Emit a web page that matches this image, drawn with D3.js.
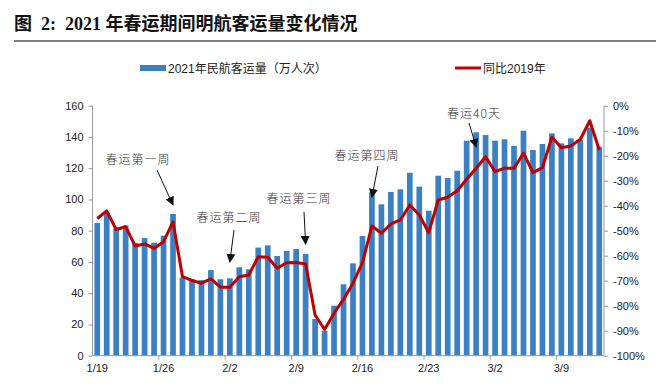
<!DOCTYPE html>
<html>
<head>
<meta charset="utf-8">
<script src="https://cdn.jsdelivr.net/npm/d3@7/dist/d3.min.js"></script>
<style>
  body { margin: 0; background: #fff; }
  svg { display: block; font-family: Arial, "Liberation Sans", "Noto Sans CJK SC", sans-serif; }
</style>
</head>
<body>
<svg id="chart" width="672" height="385"></svg>
<script>
// Categories: daily, 2021-01-19 .. 2021-03-13
const dates = [
  "1/19","1/20","1/21","1/22","1/23","1/24","1/25","1/26","1/27","1/28","1/29","1/30","1/31",
  "2/1","2/2","2/3","2/4","2/5","2/6","2/7","2/8","2/9","2/10","2/11","2/12","2/13","2/14",
  "2/15","2/16","2/17","2/18","2/19","2/20","2/21","2/22","2/23","2/24","2/25","2/26","2/27","2/28",
  "3/1","3/2","3/3","3/4","3/5","3/6","3/7","3/8","3/9","3/10","3/11","3/12","3/13"
];
// 2021 civil aviation passenger volume (10k trips)
const passengers = [
  85, 91.5, 81.5, 83.4, 72.3, 75.3, 72.3, 76.8, 90.7, 50, 49, 48.4, 54.8,
  48.9, 49.5, 56.6, 55.3, 69.2, 70.6, 63.8, 67, 68.3, 65.1, 23.5, 16, 32, 45.7,
  59.1, 76.6, 104.6, 96.9, 104.8, 106.5, 117.1, 108.2, 92.8, 115.2, 113.7, 118.4, 137.6, 143,
  141.2, 137.6, 138.5, 134.2, 144, 131.6, 135.5, 142.3, 135.9, 139.1, 138, 146, 133.8
];
// change vs 2019 (%)
const vs2019 = [
  -45.1, -42.1, -49.5, -48.4, -56.1, -55.3, -57.1, -54.4, -46.5, -68.4, -69.9, -71, -69.3,
  -72.6, -72.6, -68.4, -67.7, -60.4, -60.6, -65, -62.8, -62.7, -63.3, -83.7, -89.5, -83, -77.5,
  -71, -62.8, -48.1, -51, -47.3, -45.7, -39.7, -43.7, -50.8, -37.7, -36.6, -34, -29.4, -25,
  -20.4, -26.4, -25, -25, -19, -26.8, -24.8, -12.6, -16.8, -16.1, -13.4, -6, -17.7
];
const leftTicks = [0, 20, 40, 60, 80, 100, 120, 140, 160];
const rightTicks = [0, -10, -20, -30, -40, -50, -60, -70, -80, -90, -100];
const xLabels = ["1/19", "1/26", "2/2", "2/9", "2/16", "2/23", "3/2", "3/9"];
const notes = [
  { text: "春运第一周", at: "1/27", tx: 138, ty: 160, x1: 157, y1: 170, y2: 205 },
  { text: "春运第二周", at: "2/2", tx: 229, ty: 218, x1: 234, y1: 230, y2: 262 },
  { text: "春运第三周", at: "2/10", tx: 299, ty: 199, x1: 304, y1: 212, y2: 244 },
  { text: "春运第四周", at: "2/17", tx: 367, ty: 156, x1: 378, y1: 166, y2: 197 },
  { text: "春运40天", at: "2/28", tx: 474, ty: 114, x1: 469, y1: 123, y2: 147 }
];

const blue = "#3c80c4", red = "#c00000", axisCol = "#999";
const svg = d3.select("#chart");
const m = { left: 92.5, right: 604, top: 105.7, bottom: 355.7 };

// title
svg.append("text")
  .attr("x", 14).attr("y", 30)
  .style("font-family", "'Liberation Serif', 'Noto Sans CJK SC', serif")
  .style("font-weight", "bold").style("font-size", "18px").style("white-space", "pre").attr("fill", "#111")
  .text("图  2:  2021 年春运期间明航客运量变化情况");
svg.append("line").attr("x1", 14).attr("x2", 656).attr("y1", 41).attr("y2", 41)
  .attr("stroke", "#555").attr("stroke-width", 1.5);

// legend
const lg = svg.append("g").style("font-size", "12px").attr("fill", "#222");
lg.append("rect").attr("x", 140).attr("y", 65).attr("width", 26).attr("height", 6).attr("fill", blue);
lg.append("text").attr("x", 168).attr("y", 72.5).text("2021年民航客运量（万人次）");
lg.append("line").attr("x1", 455).attr("x2", 481).attr("y1", 68).attr("y2", 68)
  .attr("stroke", red).attr("stroke-width", 3);
lg.append("text").attr("x", 483).attr("y", 72.5).text("同比2019年");

// scales
const x = d3.scaleBand().domain(dates).range([m.left, m.right]).paddingInner(0.4).paddingOuter(0.2);
const xc = d => x(d) + x.bandwidth() / 2;
const y = d3.scaleLinear().domain([0, 160]).range([m.bottom, m.top]);
const y2 = d3.scaleLinear().domain([-100, 0]).range([m.bottom, m.top]);

// bars
svg.append("g").selectAll("rect")
  .data(dates)
  .enter().append("rect")
  .attr("x", d => x(d))
  .attr("width", x.bandwidth())
  .attr("y", (d, i) => y(passengers[i]))
  .attr("height", (d, i) => m.bottom - y(passengers[i]))
  .attr("fill", blue);

// axes
const leftAxis = svg.append("g").attr("transform", "translate(" + m.left + ",0)")
  .call(d3.axisLeft(y).tickValues(leftTicks).tickSize(4).tickPadding(5));
const rightAxis = svg.append("g").attr("transform", "translate(" + m.right + ",0)")
  .call(d3.axisRight(y2).tickValues(rightTicks).tickSize(4).tickPadding(5).tickFormat(d => d + "%"));
const step = x.step();
const bottomAxis = svg.append("g").attr("transform", "translate(0," + m.bottom + ")")
  .call(d3.axisBottom(x).tickValues(xLabels).tickSize(0).tickPadding(9));
// category tick marks at band boundaries
bottomAxis.selectAll(".cat-tick")
  .data(xLabels.slice(1))
  .enter().append("line")
  .attr("x1", d => x(d) - (step - x.bandwidth()) / 2)
  .attr("x2", d => x(d) - (step - x.bandwidth()) / 2)
  .attr("y1", 0).attr("y2", 4)
  .attr("stroke", axisCol);

[leftAxis, rightAxis, bottomAxis].forEach(a => {
  a.select(".domain").attr("stroke", axisCol);
  a.selectAll(".tick line").attr("stroke", axisCol);
  a.selectAll("text").style("font-size", "11px").style("font-family", "Arial, 'Liberation Sans', sans-serif").attr("fill", "#222");
});
leftAxis.select(".domain").attr("d", "M0," + m.top + "V" + m.bottom);
rightAxis.select(".domain").attr("d", "M0," + m.top + "V" + m.bottom);
bottomAxis.select(".domain").attr("d", "M" + m.left + ",0H" + m.right);

// line
const line = d3.line().x(d => xc(d)).y((d, i) => y2(vs2019[i]));
svg.append("path").datum(dates)
  .attr("d", line)
  .attr("fill", "none").attr("stroke", red).attr("stroke-width", 3).attr("stroke-linejoin", "round");

// annotations
const defs = svg.append("defs");
defs.append("marker").attr("id", "arrow").attr("viewBox", "0 0 10 10")
  .attr("refX", 9).attr("refY", 5)
  .attr("orient", "auto").attr("markerUnits", "userSpaceOnUse")
  .attr("markerWidth", 9).attr("markerHeight", 9)
  .append("path").attr("d", "M0,0L10,5L0,10z").attr("fill", "#111");

const ann = svg.append("g");
notes.forEach(n => {
  ann.append("text")
    .attr("x", n.tx).attr("y", n.ty).attr("dy", "0.35em").attr("text-anchor", "middle")
    .style("font-family", "'Noto Sans CJK SC', sans-serif").style("font-weight", 300)
    .style("font-size", "12px").attr("fill", "#333").attr("letter-spacing", "1px")
    .text(n.text);
  ann.append("line")
    .attr("x1", n.x1).attr("y1", n.y1)
    .attr("x2", xc(n.at)).attr("y2", n.y2)
    .attr("stroke", "#111").attr("stroke-width", 1)
    .attr("marker-end", "url(#arrow)");
});
</script>
</body>
</html>
